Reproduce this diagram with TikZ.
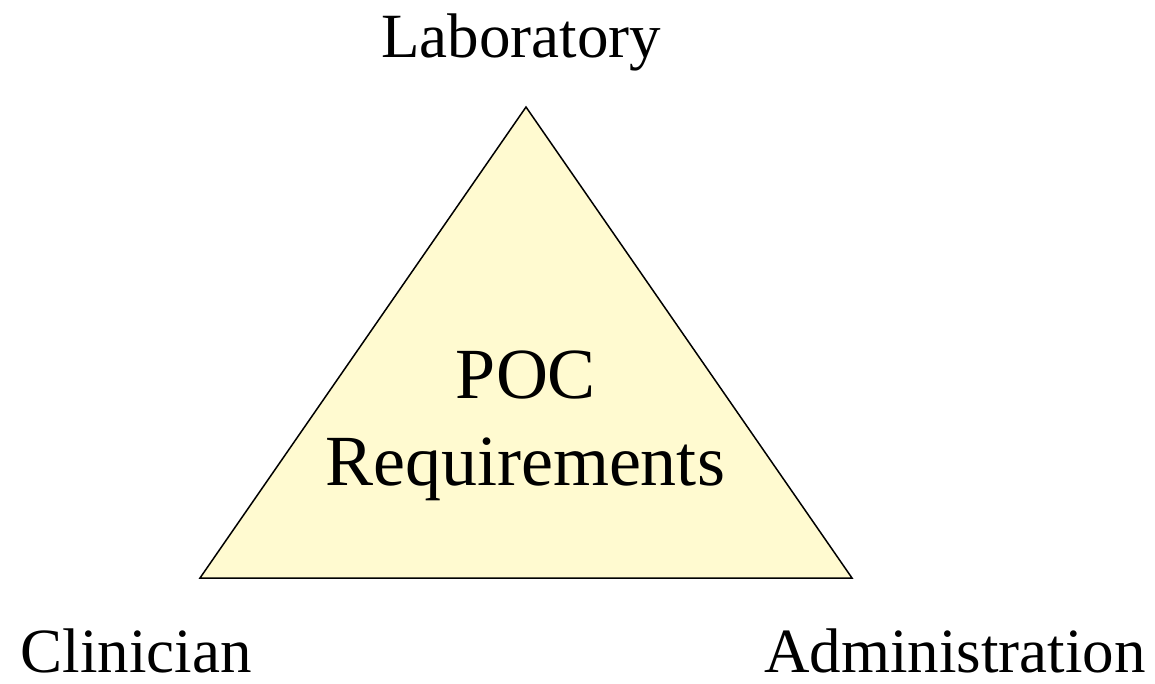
\documentclass[tikz,border=0pt]{standalone}
\usepackage{fontspec}
\setmainfont{Liberation Serif}
\definecolor{pocfill}{RGB}{255,250,208}
\begin{document}
\begin{tikzpicture}[x=1pt,y=-1pt,
  label text/.style={inner sep=0pt,anchor=base,font=\fontsize{63}{86}\selectfont},
  centre text/.style={inner sep=0pt,anchor=base,font=\fontsize{72}{86}\selectfont}]
\useasboundingbox (0,0) rectangle (1155,683);
% triangle corners
\coordinate (top) at (526,107);
\coordinate (left) at (200,578);
\coordinate (right) at (852,578);
\draw[line width=1.5pt,line join=miter,fill=pocfill] (top) -- (left) -- (right) -- cycle;
% labels
\node[label text] (lab) at (521,57) {Laboratory};
\node[centre text] (poc) at (526,398) {POC};
\node[centre text] (req) at (525,485) {Requirements};
\node[label text] (cli) at (136,672) {Clinician};
\node[label text] (adm) at (955,672) {Administration};
\end{tikzpicture}
\end{document}
